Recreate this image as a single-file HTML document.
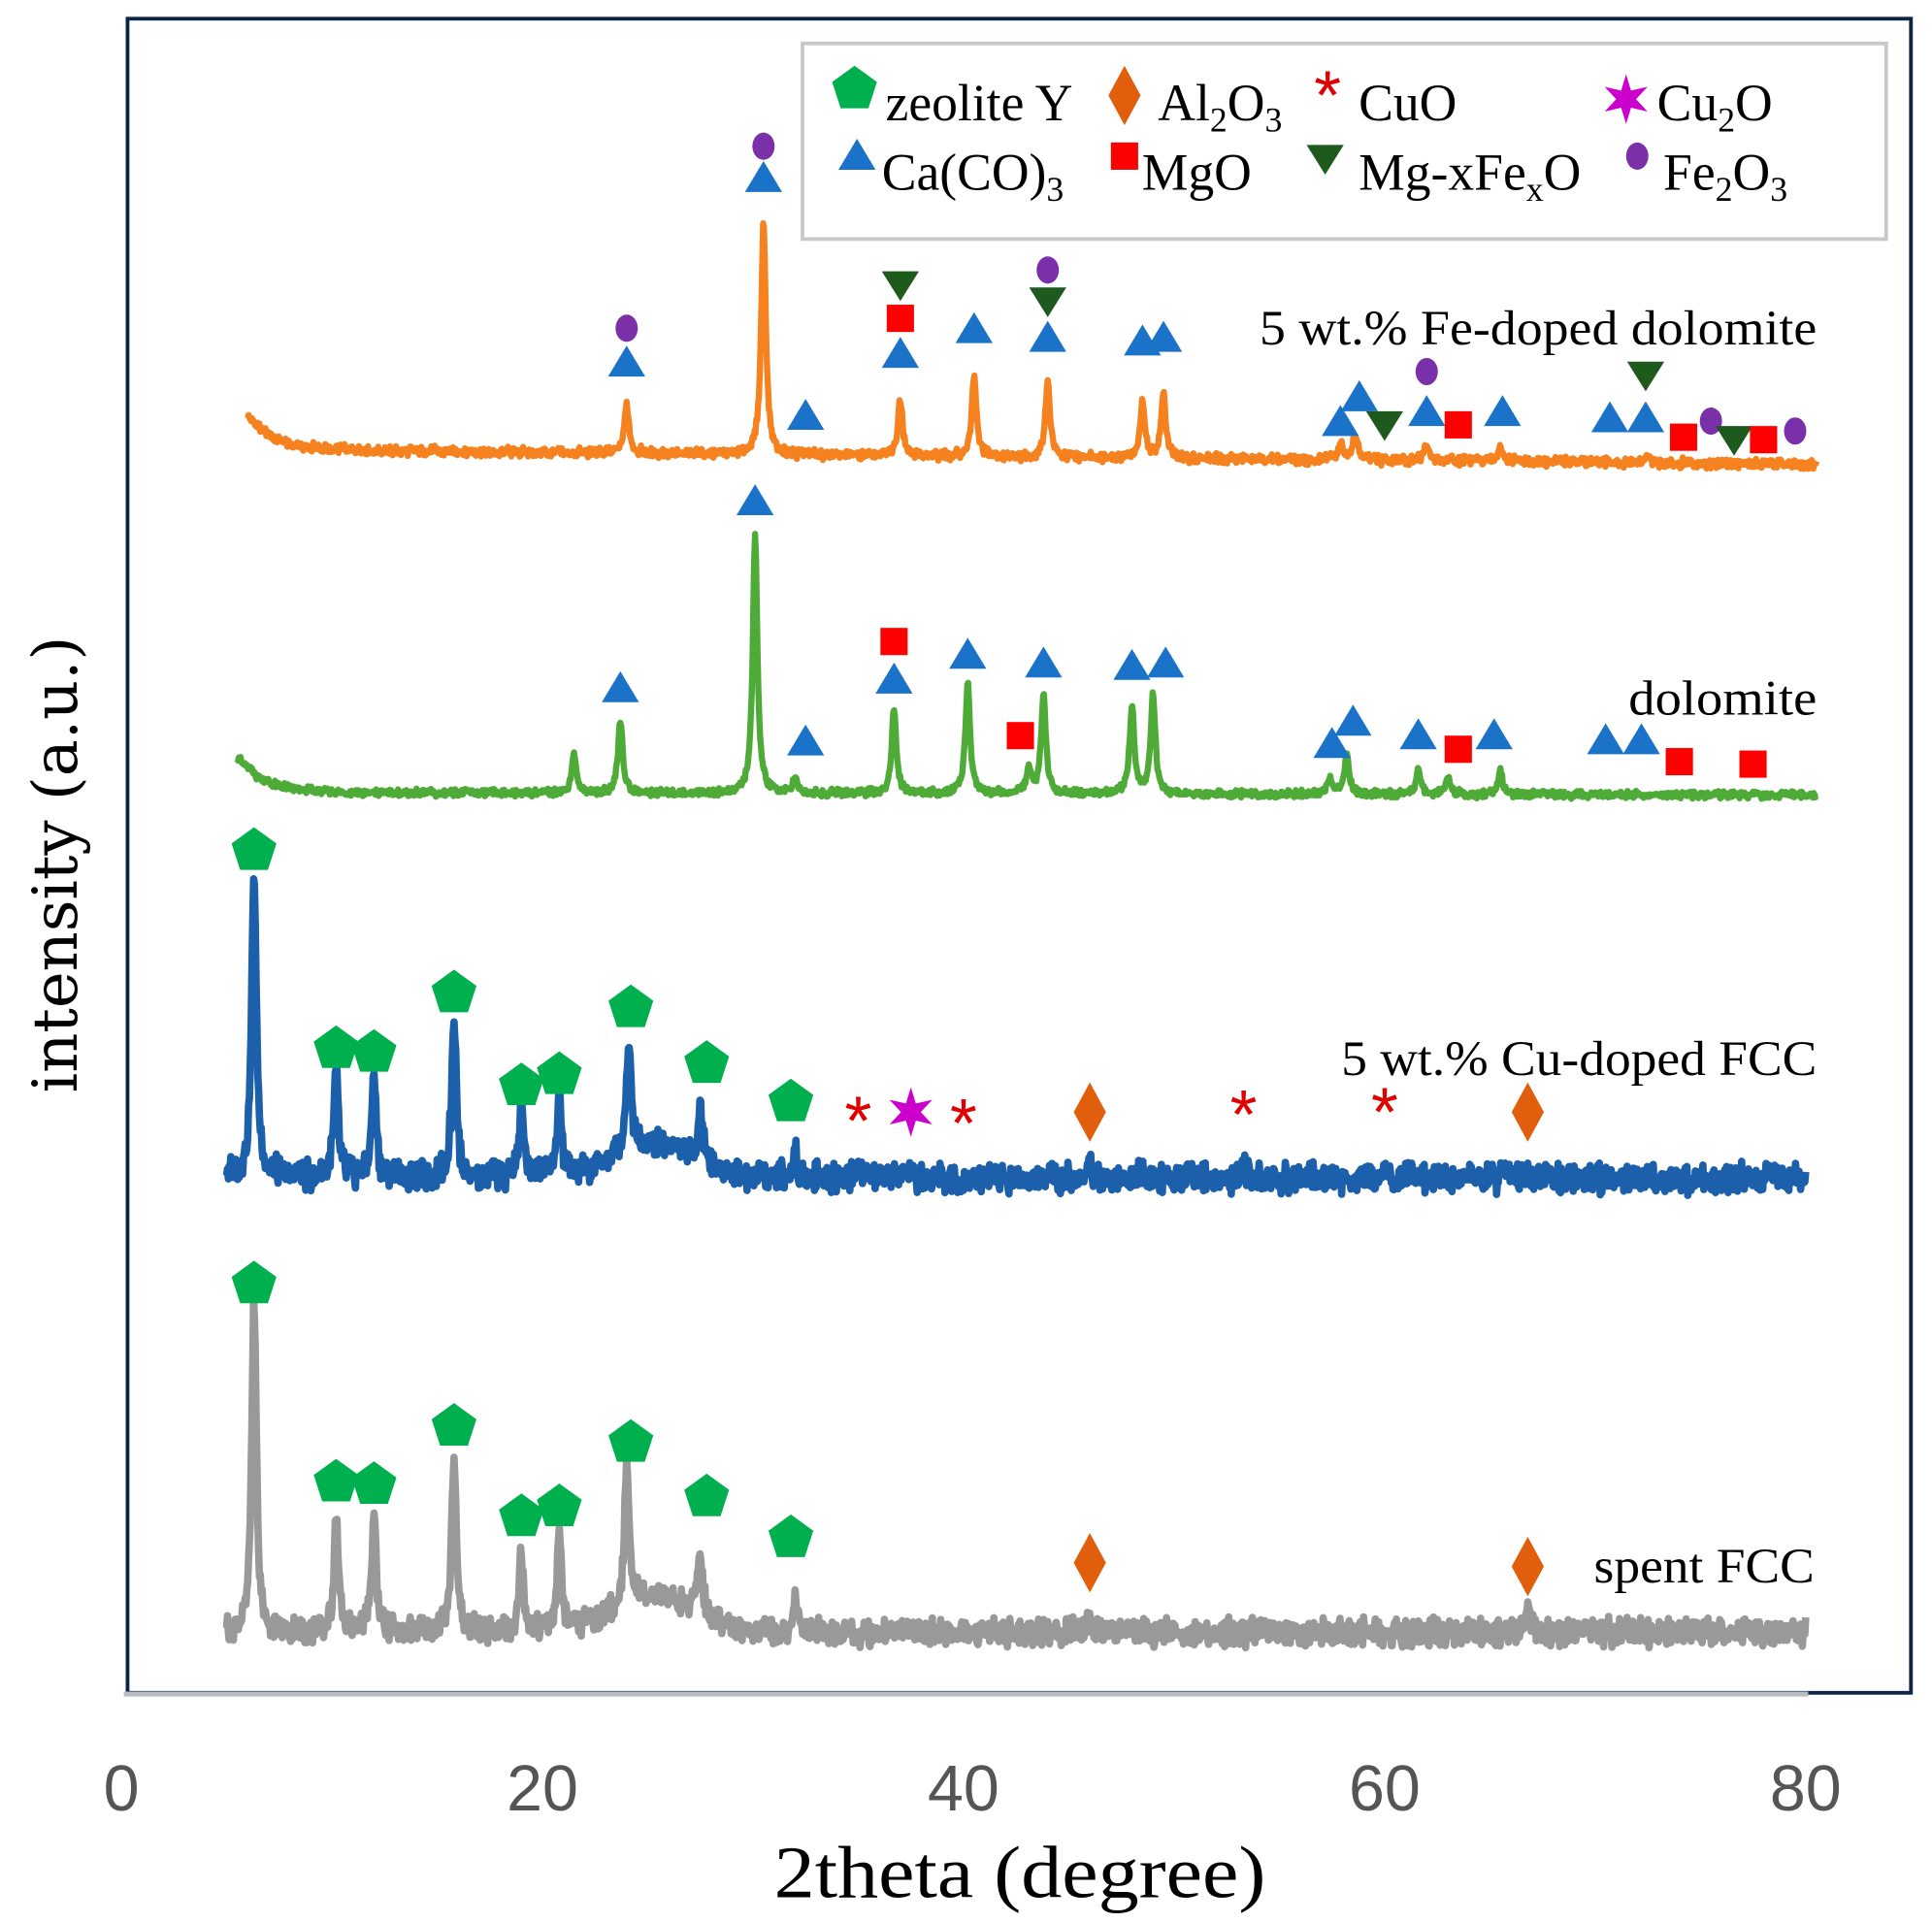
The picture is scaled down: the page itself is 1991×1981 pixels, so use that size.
<!DOCTYPE html>
<html><head><meta charset="utf-8"><style>
html,body{margin:0;padding:0;background:#fff}
svg{display:block}
.serif{font-family:"Liberation Serif","DejaVu Serif",serif}
</style></head><body>
<svg id="chart" width="1991" height="1981" viewBox="0 0 1560 1552" xmlns="http://www.w3.org/2000/svg">
<rect x="0" y="0" width="1560" height="1552" fill="#fff"/>
<rect x="103" y="15" width="1440" height="1352" fill="none" stroke="#0d2545" stroke-width="3"/>
<line x1="100" y1="1368" x2="1460" y2="1368" stroke="#b8bcc2" stroke-width="4"/>
<g id="xticks"></g>
<text class="serif" x="625" y="1532" font-size="60" textLength="397" lengthAdjust="spacingAndGlyphs" fill="#000">2theta (degree)</text>
<text x="0" y="0" font-size="50" text-anchor="middle" fill="#000" font-family="'DejaVu Serif','Liberation Serif',serif" transform="translate(62,698) rotate(-90)">intensity (a.u.)</text>
<g id="series"></g>
<g id="markers"></g>
<text class="serif" x="1017" y="278" font-size="40" textLength="450" lengthAdjust="spacingAndGlyphs">5 wt.% Fe-doped dolomite</text>
<text class="serif" x="1315" y="577" font-size="40" textLength="152" lengthAdjust="spacingAndGlyphs">dolomite</text>
<text class="serif" x="1083" y="868" font-size="40" textLength="384" lengthAdjust="spacingAndGlyphs">5 wt.% Cu-doped FCC</text>
<text class="serif" x="1287" y="1278" font-size="40" textLength="178" lengthAdjust="spacingAndGlyphs">spent FCC</text>
<g>
<rect x="648" y="35" width="875" height="158" fill="#fff" stroke="#c8c8c8" stroke-width="3"/>
<g id="legendMarkers"></g>
<text class="serif" font-size="42" fill="#000">
<tspan x="715" y="97">zeolite Y</tspan>
<tspan x="935" y="97">Al<tspan font-size="28" dy="9">2</tspan><tspan dy="-9">O</tspan><tspan font-size="28" dy="9">3</tspan></tspan>
<tspan x="1097" y="97">CuO</tspan>
<tspan x="1338" y="97">Cu<tspan font-size="28" dy="9">2</tspan><tspan dy="-9">O</tspan></tspan>
<tspan x="712" y="153">Ca(CO)<tspan font-size="28" dy="9">3</tspan></tspan>
<tspan x="922" y="153">MgO</tspan>
<tspan x="1097" y="153">Mg-xFe<tspan font-size="28" dy="9">x</tspan><tspan dy="-9">O</tspan></tspan>
<tspan x="1343" y="153">Fe<tspan font-size="28" dy="9">2</tspan><tspan dy="-9">O</tspan><tspan font-size="28" dy="9">3</tspan></tspan>
</text>
</g>
</svg>
<script>
// ---- data ----
const xTicks = [0, 20, 40, 60, 80];
const seriesNames = ["fe-doped-dolomite", "dolomite", "cu-doped-fcc", "spent-fcc"];
const seriesColors = ["#f5821f", "#4fab37", "#1c5faa", "#999999"];
const seriesStart = [6, 5.5, 5, 5];
const seriesEnd = [80.5, 80.5, 80, 80];
const baseStart = [1004, 727, 417, 49];
const baseEnd = [992, 725, 415, 49];
const lowAngleRise = [28, 30, 0, 0];
const noiseAmp = [8, 6, 24, 22];
const humpHeight = [0, 0, 28, 30];
const feDopedPeakPos = [24, 30.5, 37, 40.5, 44, 48.5, 49.5, 57.9, 58.6, 62, 65.5, 72.5];
const feDopedPeakInt = [40, 190, 47, 65, 62, 46, 52, 14, 22, 12, 12, 6];
const dolomitePeakPos = [21.5, 23.7, 30.1, 32, 36.7, 40.2, 43.1, 43.8, 48, 49, 57.4, 58.2, 61.6, 63, 65.5];
const dolomitePeakInt = [32, 60, 208, 12, 68, 90, 20, 80, 72, 80, 12, 33, 20, 15, 18];
const cuFccPeakPos = [6.3, 10.2, 12, 15.8, 19, 20.8, 24.1, 27.5, 32, 35, 53.3, 60, 46, 66.8];
const cuFccPeakInt = [250, 80, 80, 128, 55, 65, 90, 45, 22, 10, 10, 8, 8, 10];
const spentPeakPos = [6.3, 10.2, 12, 15.8, 19, 20.8, 24, 27.5, 32, 46, 66.8];
const spentPeakInt = [268, 92, 90, 143, 65, 78, 110, 55, 28, 10, 14];
const peakPos = [feDopedPeakPos, dolomitePeakPos, cuFccPeakPos, spentPeakPos];
const peakInt = [feDopedPeakInt, dolomitePeakInt, cuFccPeakInt, spentPeakInt];

// markers: [2theta, intensity-level, type]
const markerTheta = [24,24,30.5,30.5,32.5,37,37,37,40.5,44,44,44,48.5,49.5,57.9,58.8,60,62,62,63.5,65.6,70.7,72.4,72.4,74.2,75.5,76.6,78,79.5,
 23.7,30.1,32.5,36.7,36.7,40.2,42.7,43.8,48,49.6,57.5,58.5,61.6,63.5,65.2,70.5,72.2,74,77.5,
 6.3,10.2,12,15.8,19,20.8,24.2,27.8,31.8,35,40,53.3,60,37.5,46,66.8,
 6.3,10.2,12,15.8,19,20.8,24.2,27.8,31.8,46,66.8];
const markerLevel = [1075,1102,1224,1249,1032,1082,1110,1137,1102,1095,1124,1149,1092,1095,1027,1047,1024,1035,1067,1024,1035,1030,1030,1064,1014,1027,1012,1012,1019,
 812,963,769,819,849,839,773,832,830,832,767,785,774,762,774,770,770,752,750,
 682,522,519,567,492,501,555,510,479,467,465,472,474,469,469,469,
 332,172,170,217,144,152,204,160,127,105,102];
const markerType = ["tri","circle","tri","circle","tri","tri","square","down","tri","tri","down","circle","tri","tri","tri","tri","down","tri","circle","square","tri","tri","tri","down","square","circle","down","square","circle",
 "tri","tri","tri","tri","square","tri","square","tri","tri","tri","tri","tri","tri","square","tri","tri","tri","square","square",
 "pent","pent","pent","pent","pent","pent","pent","pent","pent","ast","ast","ast","ast","star","diam","diam",
 "pent","pent","pent","pent","pent","pent","pent","pent","pent","diam","diam"];

// ---- scales ----
const X = t => 98 + t * 17;
const Y = v => 1367 - v;
const NS = "http://www.w3.org/2000/svg";
function mk(tag, attrs, parent) { const e = document.createElementNS(NS, tag); for (const k in attrs) e.setAttribute(k, attrs[k]); parent.appendChild(e); return e; }

const tg = document.getElementById('xticks');
xTicks.forEach(t => {
  const el = mk('text', {x: X(t), y: 1462, 'font-size': 52, 'text-anchor': 'middle', fill: '#555', 'font-family': '"Liberation Sans",sans-serif'}, tg);
  el.textContent = t;
  
  
});

function hash(i, s) { const v = Math.sin(i * 12.9898 + s * 78.233) * 43758.5453; return v - Math.floor(v) - 0.5; }
function noise(i, s) { return hash(i, s) * 0.7 + hash(i * 0.37 + 1000, s) * 0.5; }
const sg = document.getElementById('series');
seriesNames.forEach((name, s) => {
  let d = '';
  const n = Math.round((seriesEnd[s] - seriesStart[s]) / 0.04);
  for (let i = 0; i <= n; i++) {
    const t = seriesStart[s] + i * 0.04;
    const f = (t - seriesStart[s]) / (seriesEnd[s] - seriesStart[s]);
    let v = baseStart[s] + (baseEnd[s] - baseStart[s]) * f;
    v += lowAngleRise[s] * Math.exp(-(t - seriesStart[s]) / 1.2);
    v += humpHeight[s] * Math.exp(-Math.pow((t - 25.3) / 2.6, 2));
    peakPos[s].forEach((p, k) => { const w = 0.13; v += peakInt[s][k] / (1 + Math.pow((t - p) / w, 2)); });
    v += noiseAmp[s] * noise(i, s + 1);
    d += (i ? 'L' : 'M') + X(t).toFixed(1) + ' ' + Y(v).toFixed(1);
  }
  const p = mk('path', {d: d, fill: 'none', stroke: seriesColors[s], 'stroke-width': s >= 2 ? 6 : 5, 'stroke-linejoin': 'round'}, sg);
  
  
});

function drawMarker(type, cx, cy, parent) {
  let e;
  if (type === 'tri') e = mk('polygon', {points: `${cx},${cy-13} ${cx+15},${cy+12} ${cx-15},${cy+12}`, fill: '#1a73c8'}, parent);
  else if (type === 'down') e = mk('polygon', {points: `${cx-15},${cy-11} ${cx+15},${cy-11} ${cx},${cy+13}`, fill: '#1e5a1e'}, parent);
  else if (type === 'square') e = mk('rect', {x: cx-11, y: cy-11, width: 22, height: 22, fill: '#ff0000'}, parent);
  else if (type === 'circle') e = mk('ellipse', {cx: cx, cy: cy, rx: 9, ry: 11, fill: '#7a30a8'}, parent);
  else if (type === 'pent') { const pts = []; for (let k = 0; k < 5; k++) { const a = -Math.PI/2 + k*2*Math.PI/5; pts.push((cx+19*Math.cos(a)).toFixed(1)+','+(cy+2+19*Math.sin(a)).toFixed(1)); } e = mk('polygon', {points: pts.join(' '), fill: '#00b04f'}, parent); }
  else if (type === 'diam') e = mk('polygon', {points: `${cx},${cy-24} ${cx+13},${cy} ${cx},${cy+24} ${cx-13},${cy}`, fill: '#e05e0c'}, parent);
  else if (type === 'ast') { e = mk('text', {x: cx, y: cy+24, 'font-size': 56, 'text-anchor': 'middle', fill: '#e00000', 'font-family': '"Liberation Sans",sans-serif'}, parent); e.textContent = '*'; }
  else if (type === 'star') { const pts = []; for (let k = 0; k < 12; k++) { const a = -Math.PI/2 + k*Math.PI/6; const r = k%2 ? 8 : 20; pts.push((cx+r*Math.cos(a)).toFixed(1)+','+(cy+r*Math.sin(a)).toFixed(1)); } e = mk('polygon', {points: pts.join(' '), fill: '#cc00cc'}, parent); }
  return e;
}
const mg = document.getElementById('markers');
markerTheta.forEach((t, i) => {
  const e = drawMarker(markerType[i], X(t), Y(markerLevel[i]), mg);
  
  
});
const lg = document.getElementById('legendMarkers');
const legendTypes = ['pent','diam','ast','star','tri','square','down','circle'];
const legendX = [690, 908, 1072, 1313, 692, 908, 1070, 1322];
const legendY = [70, 77, 72, 80, 125, 126, 128, 126];
legendTypes.forEach((t, i) => {
  const e = drawMarker(t, legendX[i], legendY[i], lg);
  
  
});
</script>
</body></html>
